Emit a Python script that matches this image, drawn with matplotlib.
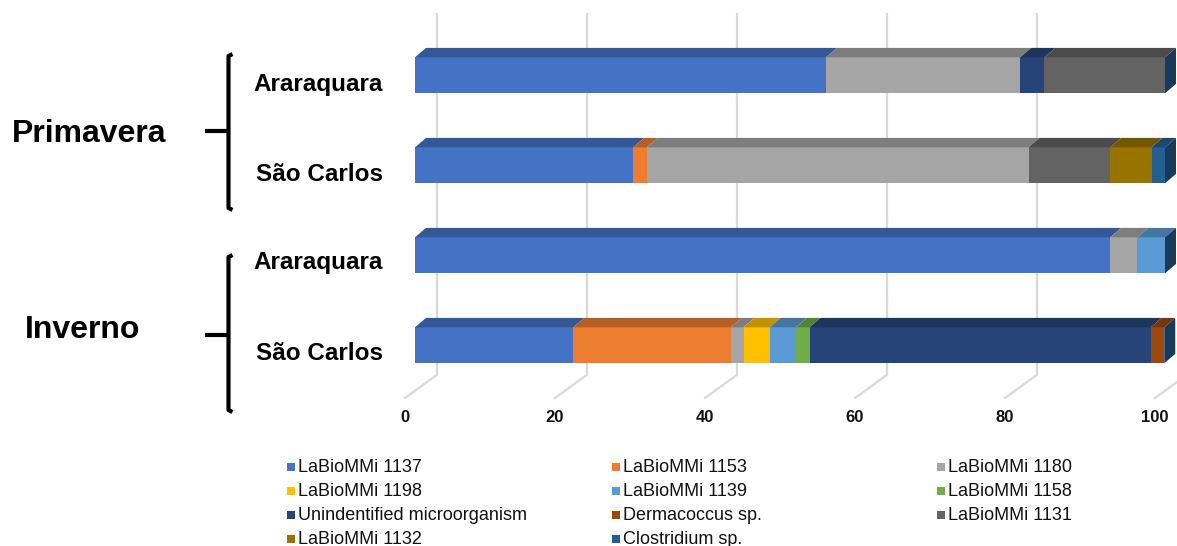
import matplotlib
matplotlib.use("Agg")
import matplotlib.pyplot as plt
from matplotlib.patches import Polygon, Rectangle
from matplotlib.lines import Line2D
import numpy as np
from matplotlib.colors import to_rgb

# ---------------- data ----------------
bars = ["Araraquara", "São Carlos", "Araraquara", "São Carlos"]
seasons = ["Primavera", "Inverno"]
series = ["LaBioMMi 1137", "LaBioMMi 1153", "LaBioMMi 1180", "LaBioMMi 1198",
          "LaBioMMi 1139", "LaBioMMi 1158", "Unindentified microorganism",
          "Dermacoccus sp.", "LaBioMMi 1131", "LaBioMMi 1132", "Clostridium sp."]
colors = ["#4472C4", "#ED7D31", "#A5A5A5", "#FFC000", "#5B9BD5", "#70AD47",
          "#264478", "#9E480E", "#636363", "#997300", "#255E91"]
# values per series, order of bars: Prim-Arar, Prim-SC, Inv-Arar, Inv-SC
v1137 = [54.8, 29.1, 92.7, 21.1]
v1153 = [0.0, 1.8, 0.0, 21.0]
v1180 = [25.9, 50.9, 3.6, 1.7]
v1198 = [0.0, 0.0, 0.0, 3.5]
v1139 = [0.0, 0.0, 3.7, 3.5]
v1158 = [0.0, 0.0, 0.0, 1.8]
vunid = [3.2, 0.0, 0.0, 45.5]
vderm = [0.0, 0.0, 0.0, 1.8]
v1131 = [16.1, 10.9, 0.0, 0.0]
v1132 = [0.0, 5.5, 0.0, 0.0]
vclos = [0.0, 1.8, 0.0, 0.0]
values = [v1137, v1153, v1180, v1198, v1139, v1158, vunid, vderm, v1131, v1132, vclos]
xticks = [0, 20, 40, 60, 80, 100]

# ---------------- figure ----------------
W, H = 1177, 546
fig = plt.figure(figsize=(W / 100, H / 100), dpi=100)
plt.rcParams['font.family'] = ['Liberation Sans', 'DejaVu Sans']

def fx(x):
    return x / W

def fy(y):
    return 1 - y / H

# axes: data 0 at 415px, 7.5 px per unit; bar i centre at 75.3 + 90 i px
pxu = 7.5
x0px = 415
yc0, ypitch = 75.3, 90.0
ax_left, ax_right, ax_top, ax_bot = 395, 1177, 0, 430
ax = fig.add_axes([fx(ax_left), fy(ax_bot), (ax_right - ax_left) / W, (ax_bot - ax_top) / H])
ax.set_xlim((ax_left - x0px) / pxu, (ax_right - x0px) / pxu)
ax.set_ylim((ax_bot - yc0) / ypitch, (ax_top - yc0) / ypitch)
ax.axis('off')

def ypx(p):
    return (p - yc0) / ypitch

# 3D offsets
gdx = 21.7 / pxu      # back wall offset
bdx = 11 / pxu        # bar depth in x
bdz = 9.4 / ypitch    # bar depth in y
bh = 0.4

# gridlines (back wall + floor)
for t in xticks:
    ax.plot([t + gdx, t + gdx], [ypx(13), ypx(375)], color="#D9D9D9", lw=1.6, zorder=0,
            solid_capstyle='butt')
    ax.plot([t + gdx, t - 10 / pxu], [ypx(375), ypx(398)], color="#D9D9D9", lw=1.6, zorder=0)
    ax.text(t - 10 / pxu, ypx(417), str(t), ha='center', va='center', fontsize=12,
            fontweight='bold', color='#111111')

def darker(c, f=0.76):
    r, g, b = to_rgb(c)
    return (r * f, g * f, b * f)

ypos = np.arange(len(bars))
left = np.zeros(len(bars))
for name, col, vals in zip(series, colors, values):
    vals = np.array(vals)
    ax.barh(ypos, vals, left=left, height=bh, color=col, edgecolor='none', zorder=3)
    for i, (l, v) in enumerate(zip(left, vals)):
        if v <= 0:
            continue
        top = ypos[i] - bh / 2
        poly = Polygon([(l, top), (l + v, top), (l + v + bdx, top - bdz), (l + bdx, top - bdz)],
                       closed=True, facecolor=darker(col), edgecolor='none', zorder=3)
        ax.add_patch(poly)
    left = left + vals

# right side faces
for i, tot in enumerate(left):
    top = ypos[i] - bh / 2
    bot = ypos[i] + bh / 2
    poly = Polygon([(tot, top), (tot + bdx, top - bdz), (tot + bdx, bot - bdz), (tot, bot)],
                   closed=True, facecolor="#183A5C", edgecolor='none', zorder=3)
    ax.add_patch(poly)

# ---------------- left labels ----------------
lab_base = [91.5, 180.7, 269.5, 359.5]
for lab, yb in zip(bars, lab_base):
    fig.text(fx(383), fy(yb), lab, ha='right', va='baseline', fontsize=17.5,
             fontweight='bold', color='black')

fig.text(fx(12), fy(141.7), seasons[0], ha='left', va='baseline', fontsize=23,
         fontweight='bold', color='black')
fig.text(fx(25), fy(338), seasons[1], ha='left', va='baseline', fontsize=23,
         fontweight='bold', color='black')

# brackets
def bracket(ytop, ybot, ymid):
    xs = 228.5
    lw = 3.0
    fig.add_artist(Line2D([fx(xs + 4), fx(xs), fx(xs), fx(xs + 4)],
                          [fy(ytop), fy(ytop + 2), fy(ybot - 2), fy(ybot)],
                          color='black', lw=lw, solid_capstyle='butt',
                          solid_joinstyle='round', transform=fig.transFigure))
    fig.add_artist(Line2D([fx(205), fx(xs)], [fy(ymid), fy(ymid)], color='black', lw=lw,
                          solid_capstyle='butt', transform=fig.transFigure))

bracket(54, 210, 130.5)
bracket(255, 412, 334.5)

# ---------------- legend (row-major, 3 columns) ----------------
col_x = [287, 612, 937]
row_y = [467, 491, 515, 539]
sq = 8
for k, (name, col) in enumerate(zip(series, colors)):
    c, r = k % 3, k // 3
    x, y = col_x[c], row_y[r]
    fig.add_artist(Rectangle((fx(x), fy(y + sq / 2)), sq / W, sq / H, facecolor=col,
                             edgecolor='none', transform=fig.transFigure))
    fig.text(fx(x + 11), fy(y), name, ha='left', va='center', fontsize=13, color='#111111')

fig.savefig("out.png", dpi=100)
